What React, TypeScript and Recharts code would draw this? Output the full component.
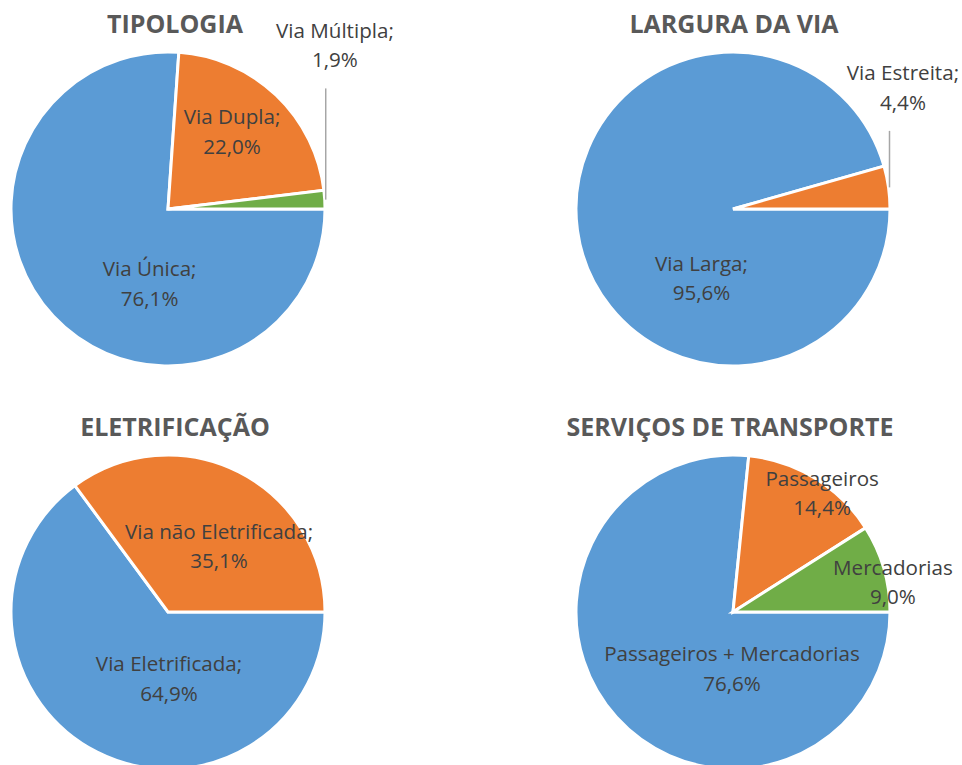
import React from 'react';
import { PieChart, Pie, Cell } from 'recharts';

const W = 962;
const H = 765;

// ---- data ----
const titles = ['TIPOLOGIA', 'LARGURA DA VIA', 'ELETRIFICAÇÃO', 'SERVIÇOS DE TRANSPORTE'];

const tipologiaNames = ['Via Única', 'Via Dupla', 'Via Múltipla'];
const tipologiaValues = [76.1, 22.0, 1.9];

const larguraNames = ['Via Larga', 'Via Estreita'];
const larguraValues = [95.6, 4.4];

const eletrificacaoNames = ['Via Eletrificada', 'Via não Eletrificada'];
const eletrificacaoValues = [64.9, 35.1];

const servicosNames = ['Passageiros + Mercadorias', 'Passageiros', 'Mercadorias'];
const servicosValues = [76.6, 14.4, 9.0];

// ---- styles / layout ----
const COLORS = ['#5B9BD5', '#ED7D31', '#70AD47'];
const LABEL_COLOR = '#404040';
const TITLE_COLOR = '#595959';
const FONT = '"Open Sans", sans-serif';
const LABEL_SIZE = 20.6;
const TITLE_SIZE = 25;
const R = 157;

type Place = { angle: number; dist: number; leader?: boolean };

const charts = [
  {
    names: tipologiaNames, values: tipologiaValues, sep: ';',
    cx: 168, cy: 209, titleX: 175,
    places: [
      { angle: 256, dist: 0.485 },
      { angle: 50.6, dist: 0.643 },
      { angle: 44.6, dist: 1.493, leader: true },
    ] as Place[],
  },
  {
    names: larguraNames, values: larguraValues, sep: ';',
    cx: 733, cy: 209, titleX: 734,
    places: [
      { angle: 245.3, dist: 0.48 },
      { angle: 35.7, dist: 1.333, leader: true },
    ] as Place[],
  },
  {
    names: eletrificacaoNames, values: eletrificacaoValues, sep: ';',
    cx: 168, cy: 612, titleX: 175,
    places: [
      { angle: 270.9, dist: 0.42 },
      { angle: 52.7, dist: 0.536 },
    ] as Place[],
  },
  {
    names: servicosNames, values: servicosValues, sep: '',
    cx: 733, cy: 612, titleX: 730,
    places: [
      { angle: 269, dist: 0.354 },
      { angle: 53.4, dist: 0.952 },
      { angle: 10.8, dist: 1.037 },
    ] as Place[],
  },
];

const fmt = (v: number) => v.toFixed(1).replace('.', ',') + '%';
const RAD = Math.PI / 180;

function makeLabel(chart: typeof charts[number]) {
  return (props: any) => {
    const { index, midAngle, outerRadius } = props;
    const cx = chart.cx;
    const cy = chart.cy;
    const p = chart.places[index];
    const lx = cx + Math.cos(p.angle * RAD) * p.dist * outerRadius;
    const ly = cy - Math.sin(p.angle * RAD) * p.dist * outerRadius;
    const name = chart.names[index];
    const value = chart.values[index];
    let leader = null;
    if (p.leader) {
      const ox = cx + Math.cos(midAngle * RAD) * outerRadius;
      const oy = cy - Math.sin(midAngle * RAD) * outerRadius;
      leader = (
        <line x1={ox + 1} y1={oy} x2={ox + 1} y2={ly + 44} stroke="#A6A6A6" strokeWidth={1.5} />
      );
    }
    return (
      <g key={`lbl-${index}`}>
        {leader}
        <text
          textAnchor="middle"
          fontFamily={FONT}
          fontSize={LABEL_SIZE}
          fill={LABEL_COLOR}
        >
          <tspan x={lx} y={ly - 6.5}>{name + chart.sep}</tspan>
          <tspan x={lx} y={ly + 23}>{fmt(value)}</tspan>
        </text>
      </g>
    );
  };
}

export default function App() {
  return (
    <div style={{ position: 'absolute', left: 0, top: 0, width: W, height: H, background: '#fff' }}>
      <PieChart width={W} height={H} margin={{ top: 0, right: 0, bottom: 0, left: 0 }}>
        {charts.map((c, ci) => (
          <Pie
            key={ci}
            data={c.names.map((n, i) => ({ name: n, value: c.values[i] }))}
            dataKey="value"
            nameKey="name"
            cx={c.cx}
            cy={c.cy}
            innerRadius={0}
            outerRadius={R}
            startAngle={0}
            endAngle={-360}
            stroke="#FFFFFF"
            strokeWidth={3}
            label={makeLabel(c)}
            labelLine={false}
            isAnimationActive={false}
          >
            {c.names.map((n, i) => (
              <Cell key={n} fill={COLORS[i]} />
            ))}
          </Pie>
        ))}
      </PieChart>
      <svg
        width={W}
        height={H}
        style={{ position: 'absolute', left: 0, top: 0, pointerEvents: 'none' }}
      >
        {charts.map((c, ci) => (
          <text
            key={ci}
            x={c.titleX}
            y={c.cy - 176}
            textAnchor="middle"
            fontFamily={FONT}
            fontWeight="bold"
            fontSize={TITLE_SIZE}
            fill={TITLE_COLOR}
          >
            {titles[ci]}
          </text>
        ))}
      </svg>
    </div>
  );
}
